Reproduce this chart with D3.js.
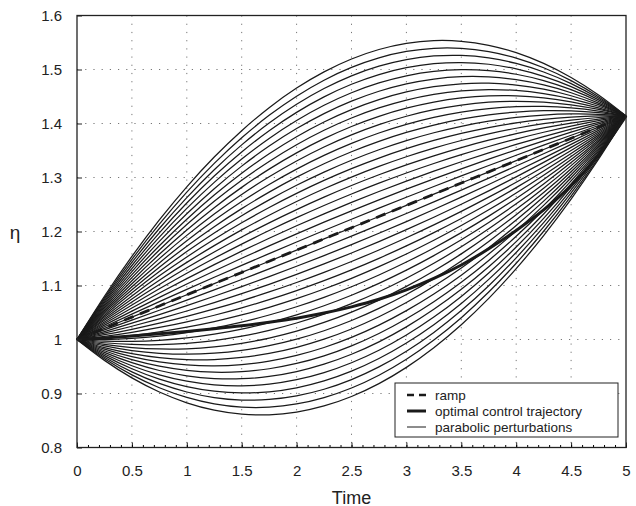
<!DOCTYPE html>
<html>
<head>
<meta charset="utf-8">
<title></title>
<style type="text/css">
body { margin: 0; background: #fff; }
text { font-family: 'Liberation Sans', Arial, Helvetica, sans-serif; }
</style>
</head>
<body>
<script src="https://d3js.org/d3.v7.min.js"></script>
<script type="text/javascript">

// time grid for the curves
const times = [0, 0.25, 0.5, 0.75, 1, 1.25, 1.5, 1.75, 2, 2.25, 2.5, 2.75, 3,
               3.25, 3.5, 3.75, 4, 4.25, 4.5, 4.75, 5];

// ramp end points
const rampStart = 1.0;
const rampEnd = 1.414;

// optimal control trajectory
const optimal = [1.000, 1.003, 1.0065, 1.0105, 1.015, 1.020, 1.0255, 1.032, 1.0395,
                 1.049, 1.0605, 1.0745, 1.092, 1.113, 1.138, 1.168, 1.202, 1.240,
                 1.285, 1.342, 1.414];

// amplitude of each parabolic perturbation a*t*(T-t) added to the ramp
const amplitudes = [-0.05, -0.0475, -0.045, -0.0425, -0.04, -0.0375, -0.035, -0.0325,
                    -0.03, -0.0275, -0.025, -0.0225, -0.02, -0.0175, -0.015, -0.0125,
                    -0.01, -0.0075, -0.005, -0.0025, 0, 0.0025, 0.005, 0.0075, 0.01,
                    0.0125, 0.015, 0.0175, 0.02, 0.0225, 0.025, 0.0275, 0.03, 0.0325,
                    0.035, 0.0375, 0.04, 0.0425, 0.045, 0.0475, 0.05];

const xTicks = [0, 0.5, 1, 1.5, 2, 2.5, 3, 3.5, 4, 4.5, 5];
const xMinorTicks = d3.range(0, 51).map(i => i / 10);
const yTicks = [0.8, 0.9, 1, 1.1, 1.2, 1.3, 1.4, 1.5, 1.6];

const legendItems = [
  {label: 'ramp', width: 2.5, dash: '7,5'},
  {label: 'optimal control trajectory', width: 3, dash: null},
  {label: 'parabolic perturbations', width: 1, dash: null}
];

// dimensions
var margin = {top: 15.5, right: 10, bottom: 58.5, left: 77},
    width = 636 - margin.left - margin.right,
    height = 506 - margin.top - margin.bottom;

var svg = d3.select("body").append("svg")
    .attr("width", 636)
    .attr("height", 506)
  .append("g")
    .attr("transform", "translate(" + margin.left + "," + margin.top + ")");

var x = d3.scaleLinear().domain([0, 5]).range([0, width]);
var y = d3.scaleLinear().domain([0.8, 1.6]).range([height, 0]);

const T = times[times.length - 1];
function ramp(t) { return rampStart + (rampEnd - rampStart) * t / T; }

// grid
svg.append("g").selectAll("line")
    .data(xTicks.slice(1, -1))
  .enter().append("line")
    .attr("x1", d => x(d)).attr("x2", d => x(d))
    .attr("y1", 0).attr("y2", height)
    .attr("stroke", "#777")
    .attr("stroke-dasharray", "1.2,7")
    .attr("stroke-width", 1);

svg.append("g").selectAll("line")
    .data(yTicks.slice(1, -1))
  .enter().append("line")
    .attr("y1", d => y(d)).attr("y2", d => y(d))
    .attr("x1", 0).attr("x2", width)
    .attr("stroke", "#777")
    .attr("stroke-dasharray", "1.2,7")
    .attr("stroke-width", 1);

var line = d3.line()
    .x(d => x(d[0]))
    .y(d => y(d[1]))
    .curve(d3.curveCatmullRom);

// parabolic perturbations
svg.append("g").selectAll("path")
    .data(amplitudes)
  .enter().append("path")
    .attr("d", a => line(times.map(t => [t, ramp(t) + a * t * (T - t)])))
    .attr("fill", "none")
    .attr("stroke", "#1a1a1a")
    .attr("stroke-width", 1.25);

// ramp
svg.append("path")
    .attr("d", line(times.map(t => [t, ramp(t)])))
    .attr("fill", "none")
    .attr("stroke", "#1a1a1a")
    .attr("stroke-width", 2.8)
    .attr("stroke-dasharray", "10,7");

// optimal control trajectory
svg.append("path")
    .attr("d", line(times.map((t, i) => [t, optimal[i]])))
    .attr("fill", "none")
    .attr("stroke", "#1a1a1a")
    .attr("stroke-width", 3);

// axes
var xAxis = svg.append("g")
    .attr("transform", "translate(0," + height + ")")
    .call(d3.axisBottom(x).tickValues(xTicks).tickFormat(d3.format("")).tickSizeInner(-5).tickSizeOuter(0).tickPadding(18));

svg.append("g")
    .attr("transform", "translate(0," + height + ")")
    .call(d3.axisBottom(x).tickValues(xMinorTicks).tickFormat("").tickSizeInner(-2.5).tickSizeOuter(0))
    .call(g => g.select(".domain").remove());

var yAxis = svg.append("g")
    .call(d3.axisLeft(y).tickValues(yTicks).tickFormat(d3.format("")).tickSizeInner(-5).tickSizeOuter(0).tickPadding(15));

[xAxis, yAxis].forEach(function(g) {
  g.select(".domain").remove();
  g.selectAll("text").attr("font-size", "15px").attr("fill", "#222")
    .style("font-family", "'Liberation Sans', Arial, sans-serif");
  g.selectAll("line").attr("stroke", "#222");
});

// border
svg.append("rect")
    .attr("x", 0).attr("y", 0)
    .attr("width", width).attr("height", height)
    .attr("fill", "none")
    .attr("stroke", "#222")
    .attr("stroke-width", 1.3);

// axis titles
svg.append("text")
    .attr("x", width / 2)
    .attr("y", height + 56)
    .attr("text-anchor", "middle")
    .attr("font-size", "18px")
    .attr("fill", "#222")
    .text("Time");

svg.append("text")
    .attr("x", -62)
    .attr("y", y(1.2) + 7)
    .attr("text-anchor", "middle")
    .attr("font-size", "19px")
    .attr("fill", "#222")
    .text("η");

// legend
var legend = svg.append("g")
    .attr("transform", "translate(" + (395 - margin.left) + "," + (383 - margin.top) + ")");

legend.append("rect")
    .attr("width", 223).attr("height", 54)
    .attr("fill", "#fff")
    .attr("stroke", "#222")
    .attr("stroke-width", 1);

var rows = legend.selectAll(".row")
    .data(legendItems)
  .enter().append("g")
    .attr("class", "row")
    .attr("transform", (d, i) => "translate(0," + (12 + i * 16) + ")");

rows.append("line")
    .attr("x1", 12).attr("x2", 31)
    .attr("y1", 0).attr("y2", 0)
    .attr("stroke", "#1a1a1a")
    .attr("stroke-width", d => d.width)
    .attr("stroke-dasharray", d => d.dash);

rows.append("text")
    .attr("x", 40)
    .attr("y", 0)
    .attr("dy", "0.35em")
    .attr("font-size", "13.5px")
    .attr("fill", "#222")
    .text(d => d.label);

</script>
</body>
</html>
